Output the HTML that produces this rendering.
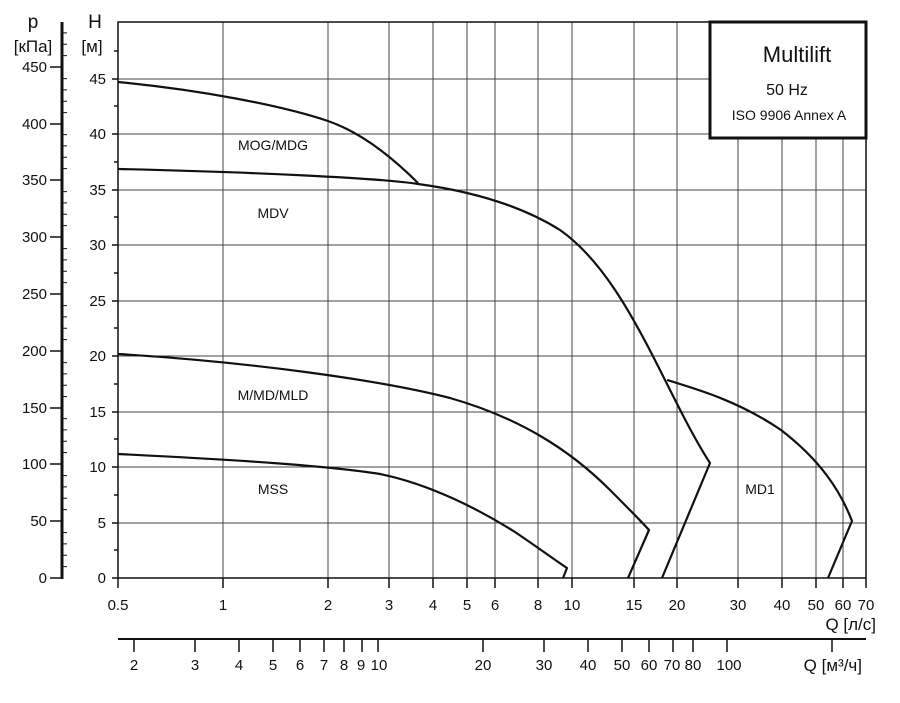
<!DOCTYPE html>
<html><head><meta charset="utf-8"><style>body{margin:0;background:#fff}svg{display:block}text{font-family:"Liberation Sans",sans-serif;fill:#111}</style></head><body>
<svg width="900" height="703" viewBox="0 0 900 703" xmlns="http://www.w3.org/2000/svg">
<g stroke="#444" stroke-width="1">
<line x1="223" y1="22" x2="223" y2="578"/><line x1="328" y1="22" x2="328" y2="578"/><line x1="389" y1="22" x2="389" y2="578"/><line x1="433" y1="22" x2="433" y2="578"/><line x1="467" y1="22" x2="467" y2="578"/><line x1="495" y1="22" x2="495" y2="578"/><line x1="538" y1="22" x2="538" y2="578"/><line x1="572" y1="22" x2="572" y2="578"/><line x1="634" y1="22" x2="634" y2="578"/><line x1="677" y1="22" x2="677" y2="578"/><line x1="738" y1="138" x2="738" y2="578"/><line x1="782" y1="138" x2="782" y2="578"/><line x1="816" y1="138" x2="816" y2="578"/><line x1="843" y1="138" x2="843" y2="578"/>
<line x1="118" y1="79" x2="866" y2="79"/><line x1="118" y1="134" x2="866" y2="134"/><line x1="118" y1="190" x2="866" y2="190"/><line x1="118" y1="245" x2="866" y2="245"/><line x1="118" y1="301" x2="866" y2="301"/><line x1="118" y1="356" x2="866" y2="356"/><line x1="118" y1="412" x2="866" y2="412"/><line x1="118" y1="467" x2="866" y2="467"/><line x1="118" y1="523" x2="866" y2="523"/>
</g>
<rect x="710" y="22" width="156" height="116" fill="#fff" stroke="#111" stroke-width="3"/>
<text x="797" y="62" font-size="22" text-anchor="middle">Multilift</text>
<text x="787" y="95" font-size="16" text-anchor="middle">50 Hz</text>
<text x="789" y="120" font-size="14" text-anchor="middle">ISO 9906 Annex A</text>
<g fill="none" stroke="#111" stroke-width="1.5">
<rect x="118" y="22" width="748" height="556"/>
</g>
<g fill="none" stroke="#111" stroke-width="2.2" stroke-linejoin="round">
<path d="M118,82 C200,90 280,105 328,121 C360,132 390,155 418,183"/>
<path d="M118,169 C250,172 380,178 418,184 C470,191 520,205 560,230 C600,258 630,310 660,370 C680,410 695,440 710,463 L662,578"/>
<path d="M118,354 C250,362 380,380 450,398 C520,418 570,450 610,490 C630,510 640,520 649,530 L628,578"/>
<path d="M118,454 C240,460 330,466 380,474 C430,484 480,510 515,532 C540,549 555,560 567,568 L563,578"/>
<path d="M667,380 C700,390 740,402 781,430 C820,460 840,490 852,521 L828,578"/>
</g>
<g font-size="14"><text x="273" y="150" text-anchor="middle">MOG/MDG</text><text x="273" y="218" text-anchor="middle">MDV</text><text x="273" y="400" text-anchor="middle">M/MD/MLD</text><text x="273" y="494" text-anchor="middle">MSS</text><text x="760" y="494" text-anchor="middle">MD1</text></g>
<g stroke="#111" stroke-width="1.5">
<line x1="112" y1="578" x2="118" y2="578"/><line x1="112" y1="523" x2="118" y2="523"/><line x1="112" y1="467" x2="118" y2="467"/><line x1="112" y1="412" x2="118" y2="412"/><line x1="112" y1="356" x2="118" y2="356"/><line x1="112" y1="301" x2="118" y2="301"/><line x1="112" y1="245" x2="118" y2="245"/><line x1="112" y1="190" x2="118" y2="190"/><line x1="112" y1="134" x2="118" y2="134"/><line x1="112" y1="79" x2="118" y2="79"/>
<line x1="114" y1="550" x2="118" y2="550"/><line x1="114" y1="495" x2="118" y2="495"/><line x1="114" y1="439" x2="118" y2="439"/><line x1="114" y1="384" x2="118" y2="384"/><line x1="114" y1="328" x2="118" y2="328"/><line x1="114" y1="273" x2="118" y2="273"/><line x1="114" y1="217" x2="118" y2="217"/><line x1="114" y1="162" x2="118" y2="162"/><line x1="114" y1="106" x2="118" y2="106"/><line x1="114" y1="51" x2="118" y2="51"/>
</g>
<g font-size="15" text-anchor="end"><text x="106" y="583">0</text><text x="106" y="528">5</text><text x="106" y="472">10</text><text x="106" y="417">15</text><text x="106" y="361">20</text><text x="106" y="306">25</text><text x="106" y="250">30</text><text x="106" y="195">35</text><text x="106" y="139">40</text><text x="106" y="84">45</text></g>
<text x="95" y="28" font-size="19" text-anchor="middle">H</text><text x="92" y="52" font-size="17" text-anchor="middle">[м]</text>
<line x1="62" y1="22" x2="62" y2="579" stroke="#111" stroke-width="3"/>
<g stroke="#111" stroke-width="1.5">
<line x1="50" y1="578" x2="62" y2="578"/><line x1="50" y1="521" x2="62" y2="521"/><line x1="50" y1="464" x2="62" y2="464"/><line x1="50" y1="408" x2="62" y2="408"/><line x1="50" y1="351" x2="62" y2="351"/><line x1="50" y1="294" x2="62" y2="294"/><line x1="50" y1="237" x2="62" y2="237"/><line x1="50" y1="180" x2="62" y2="180"/><line x1="50" y1="124" x2="62" y2="124"/><line x1="50" y1="67" x2="62" y2="67"/>
</g>
<g stroke="#111" stroke-width="1">
<path d="M62,566.6h5M62,555.3h5M62,543.9h5M62,532.6h5M62,509.6h5M62,498.3h5M62,486.9h5M62,475.6h5M62,452.6h5M62,441.3h5M62,429.9h5M62,418.6h5M62,396.6h5M62,385.3h5M62,373.9h5M62,362.6h5M62,339.6h5M62,328.3h5M62,316.9h5M62,305.6h5M62,282.6h5M62,271.3h5M62,259.9h5M62,248.6h5M62,225.6h5M62,214.3h5M62,202.9h5M62,191.6h5M62,168.6h5M62,157.3h5M62,145.9h5M62,134.6h5M62,112.6h5M62,101.3h5M62,89.9h5M62,78.6h5M62,55.6h5M62,44.3h5M62,32.9h5"/>
</g>
<g font-size="15" text-anchor="end"><text x="47" y="583">0</text><text x="47" y="526">50</text><text x="47" y="469">100</text><text x="47" y="413">150</text><text x="47" y="356">200</text><text x="47" y="299">250</text><text x="47" y="242">300</text><text x="47" y="185">350</text><text x="47" y="129">400</text><text x="47" y="72">450</text></g>
<text x="33" y="28" font-size="19" text-anchor="middle">p</text><text x="33" y="52" font-size="17" text-anchor="middle">[кПа]</text>
<g stroke="#111" stroke-width="1.5">
<path d="M118,578v10M223,578v10M328,578v10M389,578v10M433,578v10M467,578v10M495,578v10M538,578v10M572,578v10M634,578v10M677,578v10M738,578v10M782,578v10M816,578v10M843,578v10M866,578v10"/>
</g>
<g font-size="15" text-anchor="middle"><text x="118" y="610">0.5</text><text x="223" y="610">1</text><text x="328" y="610">2</text><text x="389" y="610">3</text><text x="433" y="610">4</text><text x="467" y="610">5</text><text x="495" y="610">6</text><text x="538" y="610">8</text><text x="572" y="610">10</text><text x="634" y="610">15</text><text x="677" y="610">20</text><text x="738" y="610">30</text><text x="782" y="610">40</text><text x="816" y="610">50</text><text x="843" y="610">60</text><text x="866" y="610">70</text></g>
<text x="876" y="630" font-size="17" text-anchor="end">Q [л/с]</text>
<line x1="118" y1="639" x2="866" y2="639" stroke="#111" stroke-width="2"/>
<g stroke="#111" stroke-width="1.5">
<path d="M134,640v12M195,640v12M239,640v12M273,640v12M300,640v12M324,640v12M344,640v12M362,640v12M378,640v12M483,640v12M544,640v12M588,640v12M622,640v12M649,640v12M673,640v12M693,640v12M727,640v12M832,640v12"/>
</g>
<g font-size="15" text-anchor="middle"><text x="134" y="670">2</text><text x="195" y="670">3</text><text x="239" y="670">4</text><text x="273" y="670">5</text><text x="300" y="670">6</text><text x="324" y="670">7</text><text x="344" y="670">8</text><text x="361" y="670">9</text><text x="379" y="670">10</text><text x="483" y="670">20</text><text x="544" y="670">30</text><text x="588" y="670">40</text><text x="622" y="670">50</text><text x="649" y="670">60</text><text x="672" y="670">70</text><text x="693" y="670">80</text><text x="729" y="670">100</text></g>
<text x="862" y="671" font-size="17" text-anchor="end">Q [м³/ч]</text>
</svg>
</body></html>
